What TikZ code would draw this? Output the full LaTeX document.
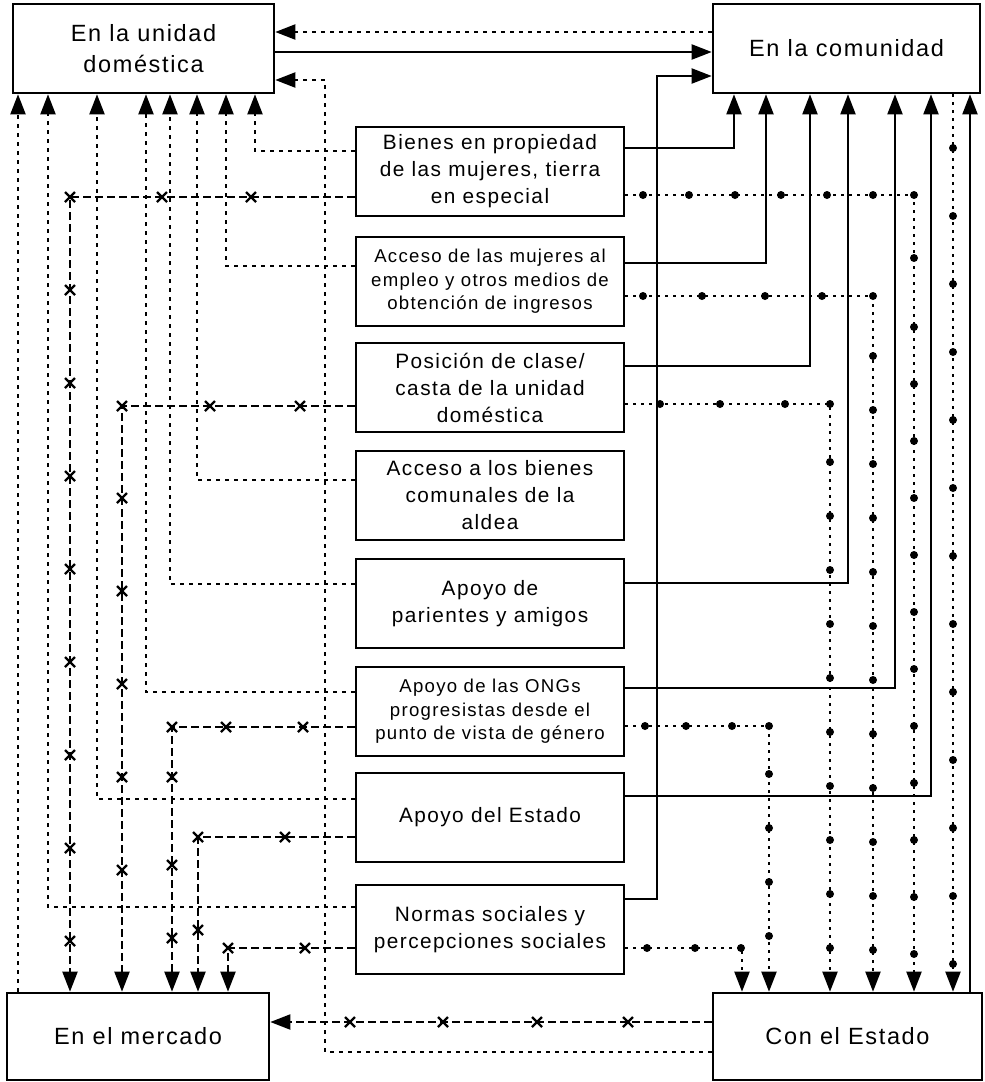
\documentclass[tikz,border=0pt]{standalone}
\usepackage{fontspec}
\setmainfont{Liberation Sans}[LetterSpace=7]
\usetikzlibrary{arrows.meta}

\begin{document}
\begin{tikzpicture}[x=1pt, y=-1pt,
    box/.style={draw, line width=2.6pt, minimum width=268pt, minimum height=89pt, align=center, inner sep=2pt},
    big/.style={font=\fontsize{20.8}{27}\selectfont},
    small/.style={font=\fontsize{18.6}{23.5}\selectfont},
    corner/.style={draw, line width=2.6pt, minimum height=89pt, align=center, font=\fontsize{23.5}{31}\selectfont},
    udln/.style={line width=2pt, dash pattern=on 3.5pt off 5.5pt, -{Triangle[length=20pt,width=15pt]}},
    meln/.style={line width=2pt, dash pattern=on 8pt off 4pt, -{Triangle[length=20pt,width=15pt]}},
    coln/.style={line width=2pt, -{Triangle[length=20pt,width=15pt]}},
    esln/.style={line width=2pt, dash pattern=on 3pt off 5pt, -{Triangle[length=20pt,width=15pt]}},
    xmk/.style={line width=2.2pt}]
    \useasboundingbox (0,0) rectangle (985,1082);

    % the four spheres
    \node[corner, minimum width=261pt] (ud) at (143.5,48.5) {En la unidad\\dom\'estica};
    \node[corner, minimum width=267pt] (co) at (846.5,48.5) {En la comunidad};
    \node[corner, minimum width=262pt, minimum height=87pt] (me) at (138,1036.5) {En el mercado};
    \node[corner, minimum width=269pt, minimum height=87pt] (es) at (847.5,1036.5) {Con el Estado};

    % the factors
    \node[box, big] (bienes) at (490,171.5) {Bienes en propiedad\\de las mujeres, tierra\\en especial};
    \node[box, small] (empleo) at (490,281.5) {Acceso de las mujeres al\\empleo y otros medios de\\obtenci\'on de ingresos};
    \node[box, big] (clase) at (490,387.5) {Posici\'on de clase/\\casta de la unidad\\dom\'estica};
    \node[box, big] (comunales) at (490,495.5) {Acceso a los bienes\\comunales de la\\aldea};
    \node[box, big] (parientes) at (490,603.5) {Apoyo de\\parientes y amigos};
    \node[box, small] (ongs) at (490,711.5) {Apoyo de las ONGs\\progresistas desde el\\punto de vista de g\'enero};
    \node[box, big] (apoyo) at (490,817.5) {Apoyo del Estado};
    \node[box, big] (normas) at (490,929.5) {Normas sociales y\\percepciones sociales};

    % links between the spheres
    \draw[udln] (co.west |- 0,32) -- (ud.east |- 0,32);
    \draw[coln] (ud.east |- 0,52) -- (co.west |- 0,52);
    \draw[udln] (me.north -| 18,0) -- (ud.south -| 18,0);
    \draw[udln] (es.west |- 0,1052) -| (325,80) -- (ud.east |- 0,80);
    \draw[meln] (es.west |- 0,1022) -- (me.east |- 0,1022);
    \draw[coln] (es.north -| 970,0) -- (co.south -| 970,0);
    \draw[esln] (co.south -| 953,0) -- (es.north -| 953,0);

    % factors -> household
    \foreach \b/\yy/\xx in {bienes/151/255, empleo/266/226, comunales/480/197, parientes/584/170,
                            ongs/692/146, apoyo/799/97, normas/907/48}
        \draw[udln] (\b.west |- 0,\yy) -| (ud.south -| \xx,0);

    % factors -> market
    \foreach \b/\yy/\xx in {bienes/197/70, clase/406/122, ongs/727/172, apoyo/837/198, normas/948/228}
        \draw[meln] (\b.west |- 0,\yy) -| (me.north -| \xx,0);

    % factors -> community
    \foreach \b/\yy/\xx in {bienes/148/734, empleo/263/766, clase/366/810, parientes/583/848,
                            ongs/688/895, apoyo/796/931}
        \draw[coln] (\b.east |- 0,\yy) -| (co.south -| \xx,0);
    \draw[coln] (normas.east |- 0,899) -| (657,76) -- (co.west |- 0,76);

    % factors -> State
    \foreach \b/\yy/\xx in {bienes/195/914, empleo/296/873, clase/404/830, ongs/726/769, normas/948/742}
        \draw[esln] (\b.east |- 0,\yy) -| (es.north -| \xx,0);

    % crosses on the market lines
    \foreach \x/\y in {70/197, 162/197, 251/197, 122/406, 210/406, 300/406,
                       172/727, 226/727, 303/727, 172/777, 172/865, 172/938,
                       198/837, 285/837, 198/930, 228/948, 305/948,
                       350/1022, 443/1022, 537/1022, 628/1022}
        \draw[xmk] (\x,\y) +(-5pt,-5pt) -- +(5pt,5pt) +(-5pt,5pt) -- +(5pt,-5pt);
    \foreach \y in {290,383,...,941}
        \draw[xmk] (70,\y) +(-5pt,-5pt) -- +(5pt,5pt) +(-5pt,5pt) -- +(5pt,-5pt);
    \foreach \y in {498,591,...,872}
        \draw[xmk] (122,\y) +(-5pt,-5pt) -- +(5pt,5pt) +(-5pt,5pt) -- +(5pt,-5pt);

    % dots on the State lines
    \foreach \x/\y in {643/195, 689/195, 735/195, 781/195, 827/195, 873/195, 914/195, 914/258,
                       643/296, 702/296, 765/296, 822/296, 873/296,
                       660/404, 720/404, 785/404, 830/404,
                       645/726, 686/726, 732/726, 769/726,
                       647/948, 695/948, 741/948}
        \fill (\x,\y) circle[radius=4pt];
    \foreach \y in {327,384,...,954}
        \fill (914,\y) circle[radius=4pt];
    \foreach \y in {356,410,...,950}
        \fill (873,\y) circle[radius=4pt];
    \foreach \y in {462,516,...,948}
        \fill (830,\y) circle[radius=4pt];
    \foreach \y in {774,828,...,936}
        \fill (769,\y) circle[radius=4pt];
    \foreach \y in {148,216,...,964}
        \fill (953,\y) circle[radius=4pt];
\end{tikzpicture}
\end{document}
